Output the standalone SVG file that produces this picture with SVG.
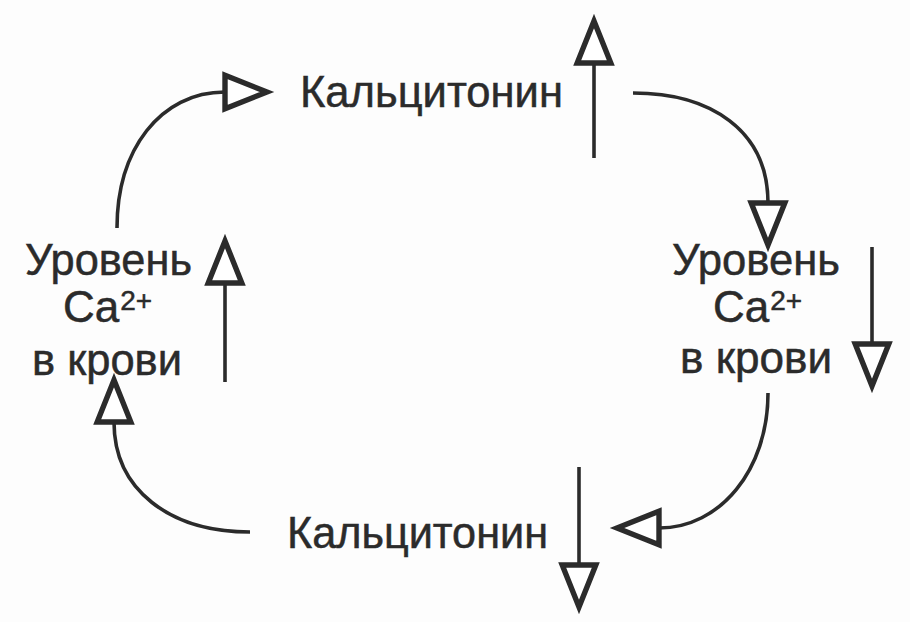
<svg xmlns="http://www.w3.org/2000/svg" width="910" height="622" viewBox="0 0 910 622">
  <style>
    .t { font-family: "Liberation Sans", Arial, sans-serif; font-size: 44px; fill: #2b2b2b; stroke: #2b2b2b; stroke-width: 0.5; }
    .sup { font-size: 28px; }
    .c { fill: none; stroke: #2b2b2b; stroke-width: 3.6; marker-end: url(#tri); }
  </style>
  <defs>
    <marker id="tri" markerUnits="userSpaceOnUse" markerWidth="60" markerHeight="60" refX="0" refY="0" orient="auto" viewBox="-5 -25 50 50" overflow="visible">
      <path d="M0,-14 L35,0 L0,14 Z" fill="#ffffff" stroke="#2b2b2b" stroke-width="4.5" stroke-linejoin="miter"/>
    </marker>
  </defs>
  <rect width="910" height="622" fill="#fdfdfd"/>

  <g id="calcitonin-up">
    <text class="t" x="300" y="107" textLength="263" lengthAdjust="spacingAndGlyphs">Кальцитонин</text>
  </g>
  <g id="calcium-down">
    <text class="t" x="672" y="275" textLength="168" lengthAdjust="spacingAndGlyphs">Уровень</text>
    <text class="t" x="713" y="322">Ca<tspan class="sup" dx="1" dy="-12">2+</tspan></text>
    <text class="t" x="680" y="373" textLength="152" lengthAdjust="spacingAndGlyphs">в крови</text>
  </g>
  <g id="calcitonin-down">
    <text class="t" x="287" y="548" textLength="261" lengthAdjust="spacingAndGlyphs">Кальцитонин</text>
  </g>
  <g id="calcium-up">
    <text class="t" x="25" y="275" textLength="167" lengthAdjust="spacingAndGlyphs">Уровень</text>
    <text class="t" x="63" y="322">Ca<tspan class="sup" dx="1" dy="-12">2+</tspan></text>
    <text class="t" x="32" y="375" textLength="150" lengthAdjust="spacingAndGlyphs">в крови</text>
  </g>

  <g id="connectors">
    <path class="c" d="M117,228 C117,150 160,92 225,92"/>
    <path class="c" d="M594,158 L594,63"/>
    <path class="c" d="M633,93 C710,93 768,130 768,203"/>
    <path class="c" d="M872,247 L872,344"/>
    <path class="c" d="M768,393 C768,470 720,528 659,528"/>
    <path class="c" d="M579,467 L579,565"/>
    <path class="c" d="M250,532 C170,532 114,490 114,422"/>
    <path class="c" d="M225,382 L225,283"/>
  </g>
</svg>
